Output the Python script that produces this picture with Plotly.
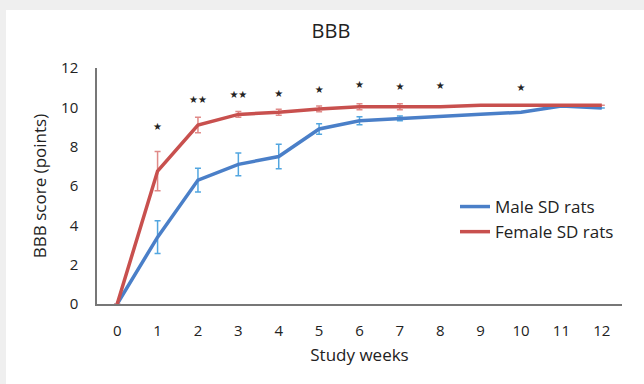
import plotly.graph_objects as go

weeks = list(range(13))
tick_labels = [str(w) for w in weeks]

male = [0, 3.4, 6.3, 7.1, 7.5, 8.9, 9.32, 9.44, 9.55, 9.65, 9.75, 10.07, 9.97]
male_err = [0, 0.83, 0.6, 0.58, 0.62, 0.27, 0.2, 0.12, 0, 0, 0, 0, 0]
female = [0, 6.76, 9.1, 9.64, 9.75, 9.92, 10.03, 10.03, 10.03, 10.1, 10.1, 10.1, 10.1]
female_err = [0, 1.0, 0.39, 0.15, 0.15, 0.15, 0.15, 0.15, 0, 0, 0, 0, 0]

star_weeks = [1, 2, 3, 4, 5, 6, 7, 8, 10]
star_text = ["★", "★★", "★★", "★", "★", "★", "★", "★", "★"]
star_y = [8.97, 10.37, 10.6, 10.66, 10.88, 11.1, 11.0, 11.07, 10.96]

FONT = "Open Sans"
fig = go.Figure()

fig.add_trace(go.Scatter(
    x=weeks, y=male, mode="lines", name="Male SD rats",
    line=dict(color="#4a7fc8", width=3.5),
    error_y=dict(type="data", array=male_err, visible=True, color="#52a6e0",
                 thickness=1.5, width=3),
))
fig.add_trace(go.Scatter(
    x=weeks, y=female, mode="lines", name="Female SD rats",
    line=dict(color="#c8504e", width=3.5),
    error_y=dict(type="data", array=female_err, visible=True, color="#e08a88",
                 thickness=1.5, width=3),
))
fig.add_trace(go.Scatter(
    x=star_weeks, y=star_y, mode="text", text=star_text, showlegend=False,
    textfont=dict(family="DejaVu Sans", size=10, color="#222"), hoverinfo="skip",
))

W, H = 644, 384
L, R, T, B = 97, 22, 68, 80
pw, ph = W - L - R, H - T - B
fig.add_shape(type="rect", xref="paper", yref="paper",
              x0=(6 - L) / pw, x1=(W + 5 - L) / pw,
              y0=(H - B - (H + 5)) / ph, y1=(H - B - 10) / ph,
              fillcolor="white", line=dict(width=0), layer="below")

fig.update_layout(
    width=W, height=H,
    margin=dict(l=L, r=R, t=T, b=B, autoexpand=False),
    paper_bgcolor="#efefef", plot_bgcolor="rgba(0,0,0,0)",
    font=dict(family=FONT, size=15, color="#222"),
    title=dict(text="BBB", x=331 / W, xanchor="center", y=1 - 31 / H, yanchor="middle",
               font=dict(family=FONT, size=20, color="#222")),
    legend=dict(x=(455 - L) / pw, y=(H - B - 189) / ph, xanchor="left", yanchor="top",
                bgcolor="rgba(0,0,0,0)", font=dict(family=FONT, size=17, color="#222"),
                tracegroupgap=10, itemwidth=30),
    showlegend=True,
)
fig.update_xaxes(
    range=[-0.5, 12.5], tickvals=weeks, ticktext=tick_labels, automargin=False,
    showline=True, linecolor="#777", linewidth=1.5, showgrid=False, zeroline=False,
    ticks="", ticklabelstandoff=12, tickfont=dict(size=15),
    title=dict(text="Study weeks", font=dict(family=FONT, size=17, color="#222"), standoff=10),
)
fig.update_yaxes(
    range=[0, 12], tickvals=[0, 2, 4, 6, 8, 10, 12], automargin=False,
    showline=True, linecolor="#777", linewidth=1.5, showgrid=False, zeroline=False,
    ticks="", ticklabelstandoff=14, tickfont=dict(size=15),
    title=dict(text="BBB score (points)", font=dict(family=FONT, size=17, color="#222"), standoff=10),
)

fig.write_html("out.html", config={"displayModeBar": False},
               post_script="document.body.style.margin='0';document.body.style.padding='0';")
